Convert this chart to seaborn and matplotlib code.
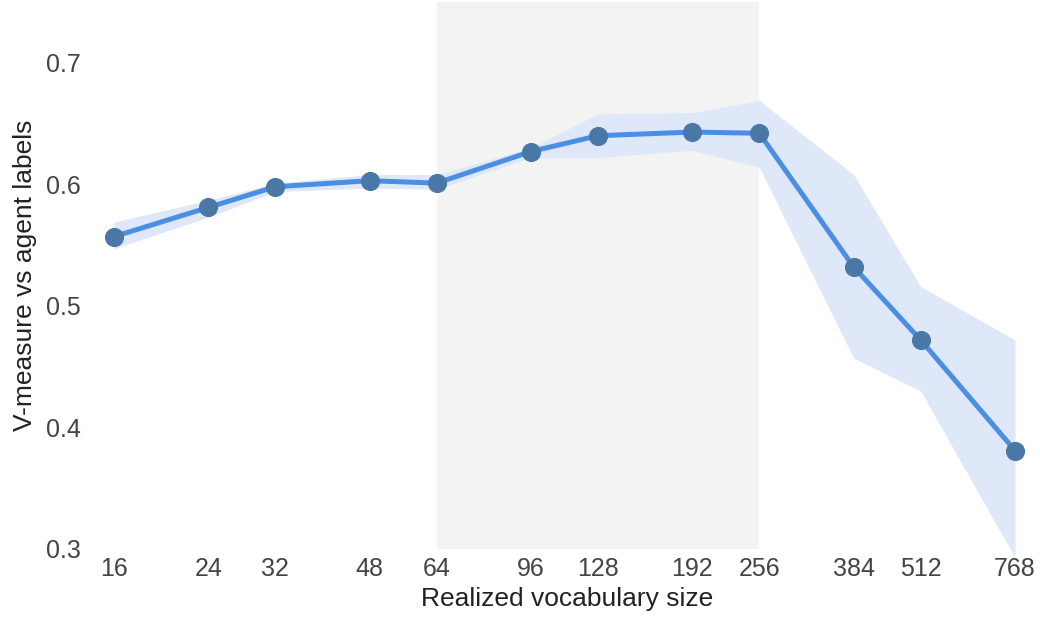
import numpy as np
import pandas as pd
import matplotlib
matplotlib.use("Agg")
import matplotlib.pyplot as plt
import seaborn as sns

# Realized vocabulary sizes and V-measure summary (mean with CI band)
vocab_size = [16, 24, 32, 48, 64, 96, 128, 192, 256, 384, 512, 768]
v_mean = [0.557, 0.581, 0.598, 0.603, 0.601, 0.627, 0.640, 0.643, 0.642, 0.532, 0.472, 0.381]
v_lower = [0.547, 0.573, 0.594, 0.597, 0.596, 0.622, 0.622, 0.628, 0.614, 0.457, 0.430, 0.293]
v_upper = [0.569, 0.587, 0.601, 0.608, 0.608, 0.630, 0.658, 0.659, 0.669, 0.608, 0.516, 0.472]
highlight_range = (64, 256)

df = pd.DataFrame({"vocab": vocab_size, "v": v_mean, "lo": v_lower, "hi": v_upper})

sns.set_theme(style="white")
plt.rcParams["font.family"] = ["Liberation Sans", "DejaVu Sans"]

fig = plt.figure(figsize=(10.4, 6.17), dpi=100)
ax = fig.add_axes([100 / 1040, (617 - 549) / 617, (1035 - 100) / 1040, (549 - 2) / 617])

ax.axvspan(*highlight_range, color="#f3f3f3", zorder=0, lw=0)

band = ax.fill_between(df["vocab"], df["lo"], df["hi"], color="#dfe8f8", lw=0, zorder=1)
band.set_clip_on(False)

sns.lineplot(data=df, x="vocab", y="v", ax=ax, color="#4a8fe3", linewidth=3.6,
             marker="o", markersize=13, markerfacecolor="#4a78a6",
             markeredgecolor="#4a78a6", zorder=3)

ax.set_xscale("log", base=2)
px_per_oct = (1015 - 114) / np.log2(768 / 16)
ax.set_xlim(16 * 2 ** (-(114 - 100) / px_per_oct), 768 * 2 ** ((1035 - 1015) / px_per_oct))
ax.set_ylim(0.3, 0.75)

ax.set_xticks(vocab_size)
ax.set_xticklabels([str(v) for v in vocab_size])
ax.minorticks_off()
ax.set_yticks([0.3, 0.4, 0.5, 0.6, 0.7])
ax.set_yticklabels(["0.3", "0.4", "0.5", "0.6", "0.7"])

ax.tick_params(axis="both", length=0, labelsize=18, labelcolor="#444444")
ax.tick_params(axis="x", pad=6)
ax.tick_params(axis="y", pad=14)

ax.set_xlabel("Realized vocabulary size", fontsize=19, color="#222222", labelpad=4)
ax.set_ylabel("V-measure vs agent labels", fontsize=19, color="#222222", labelpad=6)

for s in ax.spines.values():
    s.set_visible(False)
ax.grid(False)

fig.savefig("out.png", dpi=100)
